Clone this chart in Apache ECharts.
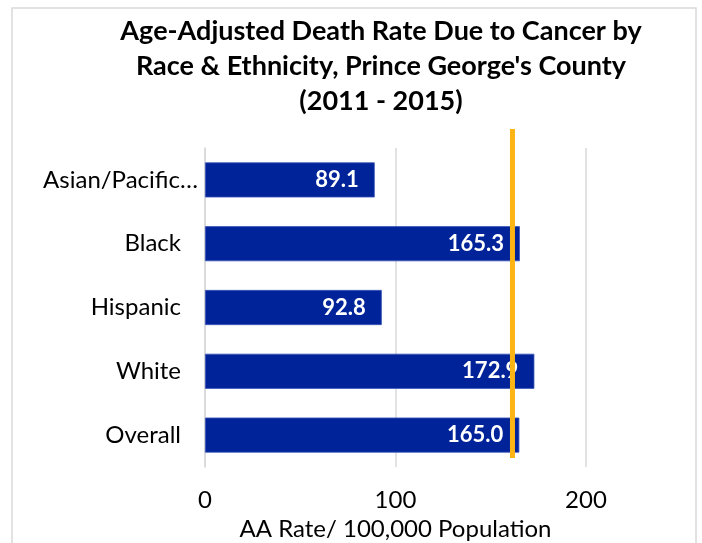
<!DOCTYPE html>
<html><head><meta charset="utf-8">
<script src="https://cdn.jsdelivr.net/npm/echarts@6/dist/echarts.min.js"></script>
<style>html,body{margin:0;padding:0;background:#fff}#c{width:702px;height:543px}</style>
</head><body><div id="c"></div>
<script>
var categories = ['Asian/Pacific…', 'Black', 'Hispanic', 'White', 'Overall'];
var rates = [89.1, 165.3, 92.8, 172.9, 165.0];
var targetRate = 161.4;
var xTicks = [0, 100, 200];
var titleText = "Age-Adjusted Death Rate Due to Cancer by\nRace & Ethnicity, Prince George's County\n(2011 - 2015)";
var xAxisTitle = 'AA Rate/ 100,000 Population';

var FONT = 'Lato';
var chart = echarts.init(document.getElementById('c'), null, {renderer: 'canvas'});
chart.setOption({
  animation: false,
  backgroundColor: '#fff',
  graphic: [{type: 'rect', shape: {x: 12, y: 8, width: 684, height: 560}, style: {fill: 'none', stroke: '#d9d9d9', lineWidth: 1.5}, silent: true}],
  title: {
    text: titleText, left: 381, top: 14, padding: 0, textAlign: 'center',
    textStyle: {fontFamily: FONT, fontWeight: 'bold', fontSize: 27, lineHeight: 35, color: '#000'}
  },
  grid: [
    {left: 205, right: 116, top: 148, bottom: 76, containLabel: false, outerBoundsMode: 'none'},
    {left: 205, right: 116, top: 129, bottom: 85, containLabel: false, outerBoundsMode: 'none'}
  ],
  xAxis: [
    {type: 'value', gridIndex: 0, min: xTicks[0], max: xTicks[xTicks.length - 1], interval: xTicks[1] - xTicks[0],
     name: xAxisTitle, nameLocation: 'middle', nameGap: 50,
     nameTextStyle: {fontFamily: FONT, fontSize: 24, color: '#000'},
     axisLine: {show: false}, axisTick: {show: false},
     axisLabel: {fontFamily: FONT, fontSize: 24, color: '#000', margin: 21},
     splitLine: {show: true, lineStyle: {color: '#d9d9d9', width: 1.5}}},
    {type: 'value', gridIndex: 1, min: xTicks[0], max: xTicks[xTicks.length - 1], show: false}
  ],
  yAxis: [
    {type: 'category', gridIndex: 0, data: categories, inverse: true,
     axisLine: {show: true, lineStyle: {color: '#d9d9d9', width: 1.5}}, axisTick: {show: false},
     axisLabel: {fontFamily: FONT, fontSize: 24, color: '#000', margin: 7,
       formatter: function (v, i) { return i === 0 ? v : '{p|' + v + '}'; },
       rich: {p: {fontFamily: FONT, fontSize: 24, color: '#000', padding: [0, 17, 0, 0]}}}},
    {type: 'value', gridIndex: 1, min: 0, max: 1, show: false}
  ],
  series: [
    {type: 'bar', xAxisIndex: 0, yAxisIndex: 0, data: rates, barCategoryGap: '45%',
     itemStyle: {color: '#00239A', borderColor: '#3a55b8', borderWidth: 0.8},
     label: {show: true, position: 'insideRight', distance: 16, color: '#fff',
       fontFamily: FONT, fontWeight: 'bold', fontSize: 22,
       formatter: function (p) { return p.value.toFixed(1); }}},
    {type: 'line', xAxisIndex: 1, yAxisIndex: 1, data: [[targetRate, 0], [targetRate, 1]],
     symbol: 'none', lineStyle: {color: '#FDB515', width: 5}, z: 5}
  ]
});
</script></body></html>
